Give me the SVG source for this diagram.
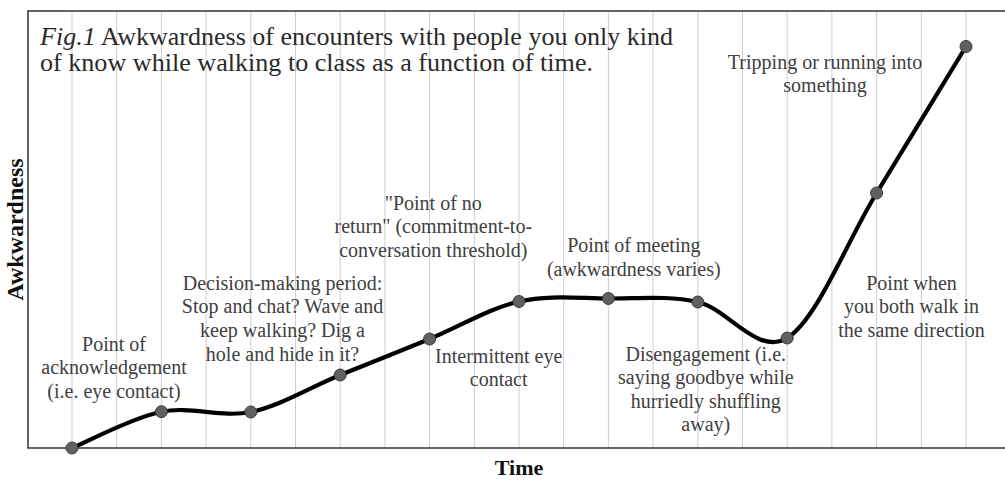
<svg xmlns="http://www.w3.org/2000/svg" width="1005" height="483" viewBox="0 0 1005 483">
  <style>
    .grid { stroke: #cfcfcf; stroke-width: 1; }
    .axis { stroke: #333333; stroke-width: 1.5; fill: none; }
    .curve { stroke: #000000; stroke-width: 4.2; fill: none; stroke-linecap: round; stroke-linejoin: round; }
    .pt { fill: #606060; stroke: #3a3a3a; stroke-width: 1; }
    .lbl { font-family: "Liberation Serif", "Times New Roman", serif; font-size: 20px; fill: #404040; text-anchor: middle; }
    .title { font-family: "Liberation Serif", "Times New Roman", serif; font-size: 24.5px; fill: #2a2a2a; }
    .axlbl { font-family: "Liberation Serif", "Times New Roman", serif; font-weight: bold; fill: #111111; text-anchor: middle; }
  </style>
  <rect x="0" y="0" width="1005" height="483" fill="#ffffff"/>

  <g id="gridlines">
    <line class="grid" x1="72" y1="11" x2="72" y2="448"/>
    <line class="grid" x1="116.7" y1="11" x2="116.7" y2="448"/>
    <line class="grid" x1="161.4" y1="11" x2="161.4" y2="448"/>
    <line class="grid" x1="206.1" y1="11" x2="206.1" y2="448"/>
    <line class="grid" x1="250.8" y1="11" x2="250.8" y2="448"/>
    <line class="grid" x1="295.5" y1="11" x2="295.5" y2="448"/>
    <line class="grid" x1="340.2" y1="11" x2="340.2" y2="448"/>
    <line class="grid" x1="384.9" y1="11" x2="384.9" y2="448"/>
    <line class="grid" x1="429.6" y1="11" x2="429.6" y2="448"/>
    <line class="grid" x1="474.3" y1="11" x2="474.3" y2="448"/>
    <line class="grid" x1="519" y1="11" x2="519" y2="448"/>
    <line class="grid" x1="563.7" y1="11" x2="563.7" y2="448"/>
    <line class="grid" x1="608.4" y1="11" x2="608.4" y2="448"/>
    <line class="grid" x1="653.1" y1="11" x2="653.1" y2="448"/>
    <line class="grid" x1="697.8" y1="11" x2="697.8" y2="448"/>
    <line class="grid" x1="742.5" y1="11" x2="742.5" y2="448"/>
    <line class="grid" x1="787.2" y1="11" x2="787.2" y2="448"/>
    <line class="grid" x1="831.9" y1="11" x2="831.9" y2="448"/>
    <line class="grid" x1="876.6" y1="11" x2="876.6" y2="448"/>
    <line class="grid" x1="921.3" y1="11" x2="921.3" y2="448"/>
    <line class="grid" x1="966" y1="11" x2="966" y2="448"/>
  </g>

  <g id="axes">
    <path class="axis" d="M1006,11 H28 V448 H1006"/>
    <text class="axlbl" x="519" y="475" font-size="22">Time</text>
    <text class="axlbl" font-size="24" transform="translate(23,229.5) rotate(-90)">Awkwardness</text>
  </g>

  <g id="title">
    <text class="title" x="40" y="45" textLength="633" lengthAdjust="spacingAndGlyphs"><tspan font-style="italic">Fig.1</tspan> Awkwardness of encounters with people you only kind</text>
    <text class="title" x="40" y="70.5" textLength="553" lengthAdjust="spacingAndGlyphs">of know while walking to class as a function of time.</text>
  </g>

  <g id="connectors">
    <path class="curve" d="M72,448 C86.9,441.95 131.6,417.7 161.4,411.7 C191.2,405.7 221,418.1 250.8,412 C280.6,405.9 310.4,387.2 340.2,375 C370,362.8 399.8,351.25 429.6,339 C459.4,326.75 489.2,308.25 519,301.5 C548.8,294.75 578.6,298.42 608.4,298.5 C638.2,298.58 668,295.42 697.8,302 C727.6,308.58 757.4,356.17 787.2,338 C817,319.83 846.8,241.58 876.6,193 C906.4,144.42 951.1,70.9 966,46.5"/>
  </g>

  <g id="node-start"><circle class="pt" cx="72" cy="448" r="6"/></g>
  <g id="node-acknowledgement">
    <circle class="pt" cx="161.4" cy="411.7" r="6"/>
    <text class="lbl" x="114" y="350.5">Point of</text>
    <text class="lbl" x="114" y="374">acknowledgement</text>
    <text class="lbl" x="114" y="397.5">(i.e. eye contact)</text>
  </g>
  <g id="node-decision">
    <circle class="pt" cx="250.8" cy="412" r="6"/>
    <text class="lbl" x="282.5" y="289.5">Decision-making period:</text>
    <text class="lbl" x="282.5" y="313.3">Stop and chat? Wave and</text>
    <text class="lbl" x="282.5" y="337.1">keep walking? Dig a</text>
    <text class="lbl" x="282.5" y="360.9">hole and hide in it?</text>
  </g>
  <g id="node-p3"><circle class="pt" cx="340.2" cy="375" r="6"/></g>
  <g id="node-intermittent">
    <circle class="pt" cx="429.6" cy="339" r="6"/>
    <text class="lbl" x="498.7" y="362.7">Intermittent eye</text>
    <text class="lbl" x="498.7" y="386.2">contact</text>
  </g>
  <g id="node-no-return">
    <circle class="pt" cx="519" cy="301.5" r="6"/>
    <text class="lbl" x="433.3" y="209.5">"Point of no</text>
    <text class="lbl" x="433.3" y="233.3">return" (commitment-to-</text>
    <text class="lbl" x="433.3" y="257.1">conversation threshold)</text>
  </g>
  <g id="node-meeting">
    <circle class="pt" cx="608.4" cy="298.5" r="6"/>
    <text class="lbl" x="633.8" y="252">Point of meeting</text>
    <text class="lbl" x="633.8" y="275.8">(awkwardness varies)</text>
  </g>
  <g id="node-p7"><circle class="pt" cx="697.8" cy="302" r="6"/></g>
  <g id="node-disengagement">
    <circle class="pt" cx="787.2" cy="338" r="6"/>
    <text class="lbl" x="705.8" y="360.7">Disengagement (i.e.</text>
    <text class="lbl" x="705.8" y="384.1">saying goodbye while</text>
    <text class="lbl" x="705.8" y="407.5">hurriedly shuffling</text>
    <text class="lbl" x="705.8" y="430.9">away)</text>
  </g>
  <g id="node-same-direction">
    <circle class="pt" cx="876.6" cy="193" r="6"/>
    <text class="lbl" x="911.5" y="289.5">Point when</text>
    <text class="lbl" x="911.5" y="313.2">you both walk in</text>
    <text class="lbl" x="911.5" y="336.9">the same direction</text>
  </g>
  <g id="node-tripping">
    <circle class="pt" cx="966" cy="46.5" r="6"/>
    <text class="lbl" x="825" y="69">Tripping or running into</text>
    <text class="lbl" x="825" y="92">something</text>
  </g>
</svg>
